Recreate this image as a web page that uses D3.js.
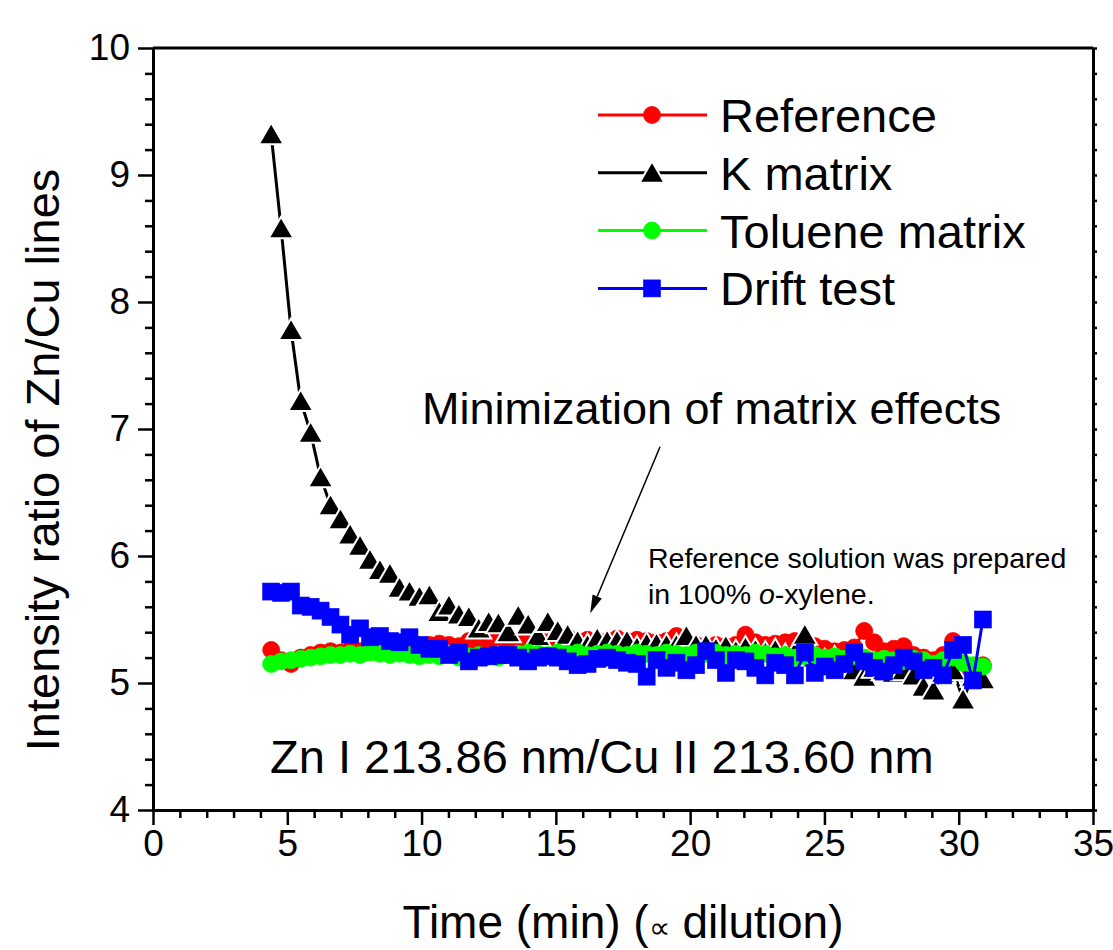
<!DOCTYPE html>
<html>
<head>
<meta charset="utf-8">
<script src="https://cdn.jsdelivr.net/npm/d3@7"></script>
<style>
  body { margin: 0; background: #fff; }
  svg text { font-family: 'Liberation Sans', Arial, sans-serif; fill: #000; }
</style>
</head>
<body>
<div id="chart"></div>
<script>
// sample times (min), shared by all four runs
const times = [
  4.40, 4.77, 5.14, 5.50, 5.87, 6.24, 6.61, 6.98, 7.34, 7.71,
  8.08, 8.45, 8.82, 9.18, 9.55, 9.92, 10.29, 10.66, 11.02, 11.39,
  11.76, 12.13, 12.50, 12.86, 13.23, 13.60, 13.97, 14.34, 14.70, 15.07,
  15.44, 15.81, 16.18, 16.54, 16.91, 17.28, 17.65, 18.02, 18.38, 18.75,
  19.12, 19.49, 19.86, 20.22, 20.59, 20.96, 21.33, 21.70, 22.06, 22.43,
  22.80, 23.17, 23.54, 23.90, 24.27, 24.64, 25.01, 25.38, 25.74, 26.11,
  26.48, 26.85, 27.22, 27.58, 27.95, 28.32, 28.69, 29.06, 29.42, 29.79,
  30.16, 30.53, 30.90
]

const refValues = [
  5.26, 5.18, 5.15, 5.20, 5.22, 5.24, 5.25, 5.24, 5.26, 5.25,
  5.26, 5.24, 5.27, 5.28, 5.30, 5.29, 5.30, 5.31, 5.30, 5.29,
  5.33, 5.31, 5.32, 5.36, 5.30, 5.31, 5.33, 5.35, 5.32, 5.34,
  5.36, 5.33, 5.34, 5.31, 5.33, 5.35, 5.33, 5.34, 5.33, 5.32,
  5.33, 5.37, 5.31, 5.30, 5.28, 5.30, 5.29, 5.30, 5.38, 5.32,
  5.30, 5.31, 5.32, 5.33, 5.30, 5.29, 5.27, 5.25, 5.26, 5.28,
  5.41, 5.32, 5.25, 5.27, 5.29, 5.22, 5.20, 5.18, 5.22, 5.33,
  5.08, 5.05, 5.14
]

const kValues = [
  9.32, 8.58, 7.78, 7.22, 6.97, 6.62, 6.40, 6.29, 6.17, 6.08,
  5.97, 5.89, 5.86, 5.75, 5.72, 5.68, 5.69, 5.56, 5.61, 5.54,
  5.52, 5.43, 5.48, 5.47, 5.40, 5.53, 5.46, 5.37, 5.48, 5.41,
  5.38, 5.33, 5.30, 5.35, 5.33, 5.33, 5.33, 5.28, 5.31, 5.31,
  5.30, 5.30, 5.37, 5.30, 5.30, 5.27, 5.29, 5.25, 5.28, 5.26,
  5.24, 5.26, 5.22, 5.24, 5.38, 5.20, 5.18, 5.20, 5.15, 5.10,
  5.05, 5.12, 5.10, 5.08, 5.10, 5.06, 4.97, 4.94, 5.08, 5.10,
  4.87, 5.05, 5.03
]

const tolueneValues = [
  5.15, 5.17, 5.18, 5.19, 5.20, 5.21, 5.22, 5.22, 5.23, 5.22,
  5.24, 5.23, 5.22, 5.23, 5.22, 5.21, 5.22, 5.21, 5.23, 5.20,
  5.21, 5.22, 5.21, 5.20, 5.22, 5.23, 5.24, 5.23, 5.22, 5.24,
  5.23, 5.24, 5.22, 5.23, 5.24, 5.23, 5.22, 5.24, 5.23, 5.22,
  5.24, 5.23, 5.22, 5.24, 5.23, 5.24, 5.22, 5.23, 5.22, 5.24,
  5.23, 5.21, 5.22, 5.20, 5.21, 5.22, 5.20, 5.21, 5.19, 5.21,
  5.20, 5.18, 5.19, 5.18, 5.17, 5.19, 5.18, 5.15, 5.18, 5.20,
  5.16, 5.14, 5.13
]

const driftValues = [
  5.72, 5.71, 5.72, 5.61, 5.60, 5.57, 5.52, 5.46, 5.38, 5.43,
  5.36, 5.37, 5.33, 5.32, 5.36, 5.30, 5.27, 5.27, 5.22, 5.24,
  5.17, 5.20, 5.21, 5.22, 5.22, 5.20, 5.17, 5.20, 5.21, 5.20,
  5.17, 5.14, 5.15, 5.19, 5.20, 5.18, 5.16, 5.15, 5.05, 5.18,
  5.12, 5.16, 5.10, 5.14, 5.25, 5.18, 5.08, 5.18, 5.17, 5.12,
  5.06, 5.16, 5.14, 5.06, 5.24, 5.08, 5.13, 5.10, 5.15, 5.24,
  5.17, 5.12, 5.09, 5.14, 5.20, 5.17, 5.10, 5.12, 5.06, 5.26,
  5.30, 5.02, 5.50
]

const seriesNames = ['Reference', 'K matrix', 'Toluene matrix', 'Drift test']
const seriesColors = ['#ff0000', '#000000', '#00ff00', '#0000ff']
const seriesSymbols = ['circle', 'triangle', 'circle', 'square']
const seriesValues = [refValues, kValues, tolueneValues, driftValues]

const xTicks = [0, 5, 10, 15, 20, 25, 30, 35]
const yTicks = [4, 5, 6, 7, 8, 9, 10]

const width = 1113
const height = 950
const margin = { left: 153, right: 20, top: 48, bottom: 140 }

const x = d3
  .scaleLinear()
  .domain([0, 35])
  .range([margin.left, width - margin.right])

const y = d3
  .scaleLinear()
  .domain([4, 10])
  .range([height - margin.bottom, margin.top])

const svg = d3
  .select('#chart')
  .append('svg')
  .attr('width', width)
  .attr('height', height)

// symbol painter: circles, triangles (with white gap), squares
const drawSymbol = function(sel, kind, color) {
  if (kind === 'circle') {
    sel
      .append('circle')
      .attr('r', 8.5)
      .attr('fill', color)
      .attr('stroke', color)
      .attr('stroke-width', 0.8)
  } else if (kind === 'triangle') {
    sel
      .append('path')
      .attr('d', 'M0,-11.5L12.5,10L-12.5,10Z')
      .attr('fill', color)
      .attr('stroke', '#fff')
      .attr('stroke-width', 2)
  } else {
    sel
      .append('rect')
      .attr('x', -8.5)
      .attr('y', -8.5)
      .attr('width', 17)
      .attr('height', 17)
      .attr('fill', color)
      .attr('stroke', color)
      .attr('stroke-width', 0.6)
  }
}

const line = d3
  .line()
  .x(d => x(d.t))
  .y(d => y(d.v))

seriesValues.forEach(function(values, s) {
  const data = values.map((v, i) => ({ t: times[i], v: v }))
  const g = svg.append('g').attr('class', 'series')

  g.append('path')
    .datum(data)
    .attr('d', line)
    .attr('fill', 'none')
    .attr('stroke', seriesColors[s])
    .attr('stroke-width', 3)
    .attr('stroke-linejoin', 'round')

  g.selectAll('g.pt')
    .data(data)
    .enter()
    .append('g')
    .attr('class', 'pt')
    .attr('transform', d => 'translate(' + x(d.t) + ',' + y(d.v) + ')')
    .each(function() {
      drawSymbol(d3.select(this), seriesSymbols[s], seriesColors[s])
    })
})

// axes
const styleAxis = function(g) {
  g.selectAll('.domain').attr('stroke-width', 3)
  g.selectAll('.tick line').attr('stroke-width', 2.5)
  g.selectAll('.tick text')
    .style('font-size', '37px')
    .style('font-family', "'Liberation Sans', Arial, sans-serif")
}

const xMinor = d3.range(0, 36, 1).filter(d => d % 5 !== 0)
const yMinor = d3.range(4, 10.01, 0.2).filter(d => Math.abs(d - Math.round(d)) > 0.01)

svg
  .append('g')
  .attr('transform', 'translate(0,' + y(4) + ')')
  .call(d3.axisBottom(x).tickValues(xMinor).tickSize(8).tickSizeOuter(0).tickFormat(''))
  .call(styleAxis)

svg
  .append('g')
  .attr('transform', 'translate(0,' + y(4) + ')')
  .call(d3.axisBottom(x).tickValues(xTicks).tickSize(15).tickSizeOuter(0).tickPadding(5).tickFormat(d3.format('d')))
  .call(styleAxis)

svg
  .append('g')
  .attr('transform', 'translate(' + x(0) + ',0)')
  .call(d3.axisLeft(y).tickValues(yMinor).tickSize(8).tickSizeOuter(0).tickFormat(''))
  .call(styleAxis)

svg
  .append('g')
  .attr('transform', 'translate(' + x(0) + ',0)')
  .call(d3.axisLeft(y).tickValues(yTicks).tickSize(15).tickSizeOuter(0).tickPadding(8).tickFormat(d3.format('d')))
  .call(styleAxis)

svg
  .append('g')
  .attr('transform', 'translate(' + x(35) + ',0)')
  .call(d3.axisRight(y).tickValues(yMinor.concat(yTicks)).tickSize(4).tickSizeOuter(0).tickFormat(''))
  .call(styleAxis)

svg
  .append('line')
  .attr('x1', x(0))
  .attr('x2', x(35))
  .attr('y1', y(10))
  .attr('y2', y(10))
  .attr('stroke', '#000')
  .attr('stroke-width', 3)

// axis titles
svg
  .append('text')
  .attr('x', (x(0) + x(35)) / 2)
  .attr('y', 938)
  .attr('text-anchor', 'middle')
  .style('font-size', '46px')
  .call(function(t) {
    t.append('tspan').text('Time (min) (')
    t.append('tspan').style('font-size', '30px').text('\u221D')
    t.append('tspan').text(' dilution)')
  })

svg
  .append('text')
  .attr('transform', 'translate(59,460) rotate(-90)')
  .attr('text-anchor', 'middle')
  .style('font-size', '47px')
  .text('Intensity ratio of Zn/Cu lines')

// legend
const legend = svg.append('g').attr('class', 'legend')
seriesNames.forEach(function(name, i) {
  const cy = 115 + i * 57.8
  const row = legend.append('g')
  row
    .append('line')
    .attr('x1', 598)
    .attr('x2', 707)
    .attr('y1', cy)
    .attr('y2', cy)
    .attr('stroke', seriesColors[i])
    .attr('stroke-width', 3)
  const m = row.append('g').attr('transform', 'translate(652,' + cy + ')')
  drawSymbol(m, seriesSymbols[i], seriesColors[i])
  row
    .append('text')
    .attr('x', 720)
    .attr('y', cy + 17)
    .style('font-size', '47px')
    .text(name)
})

// annotations
svg
  .append('text')
  .attr('x', 422)
  .attr('y', 424)
  .style('font-size', '45px')
  .text('Minimization of matrix effects')

const a0 = [x(18.88), y(6.86)]
const a1 = [x(16.28), y(5.55)]
const ang = Math.atan2(a1[1] - a0[1], a1[0] - a0[0])
const headLen = 18
const headW = 5
const base = [a1[0] - headLen * Math.cos(ang), a1[1] - headLen * Math.sin(ang)]
svg
  .append('line')
  .attr('x1', a0[0])
  .attr('y1', a0[1])
  .attr('x2', base[0])
  .attr('y2', base[1])
  .attr('stroke', '#000')
  .attr('stroke-width', 1.5)
svg
  .append('path')
  .attr(
    'd',
    'M' + a1[0] + ',' + a1[1] +
      'L' + (base[0] + headW * Math.sin(ang)) + ',' + (base[1] - headW * Math.cos(ang)) +
      'L' + (base[0] - headW * Math.sin(ang)) + ',' + (base[1] + headW * Math.cos(ang)) + 'Z'
  )
  .attr('fill', '#000')

const note = svg
  .append('text')
  .attr('x', 648)
  .style('font-size', '28.5px')
note.append('tspan').attr('x', 648).attr('y', 568).text('Reference solution was prepared')
note.append('tspan').attr('x', 648).attr('y', 604).text('in 100% ')
note.append('tspan').style('font-style', 'italic').text('o')
note.append('tspan').text('-xylene.')

svg
  .append('text')
  .attr('x', 270)
  .attr('y', 773)
  .style('font-size', '47px')
  .text('Zn I 213.86 nm/Cu II 213.60 nm')
</script>
</body>
</html>
